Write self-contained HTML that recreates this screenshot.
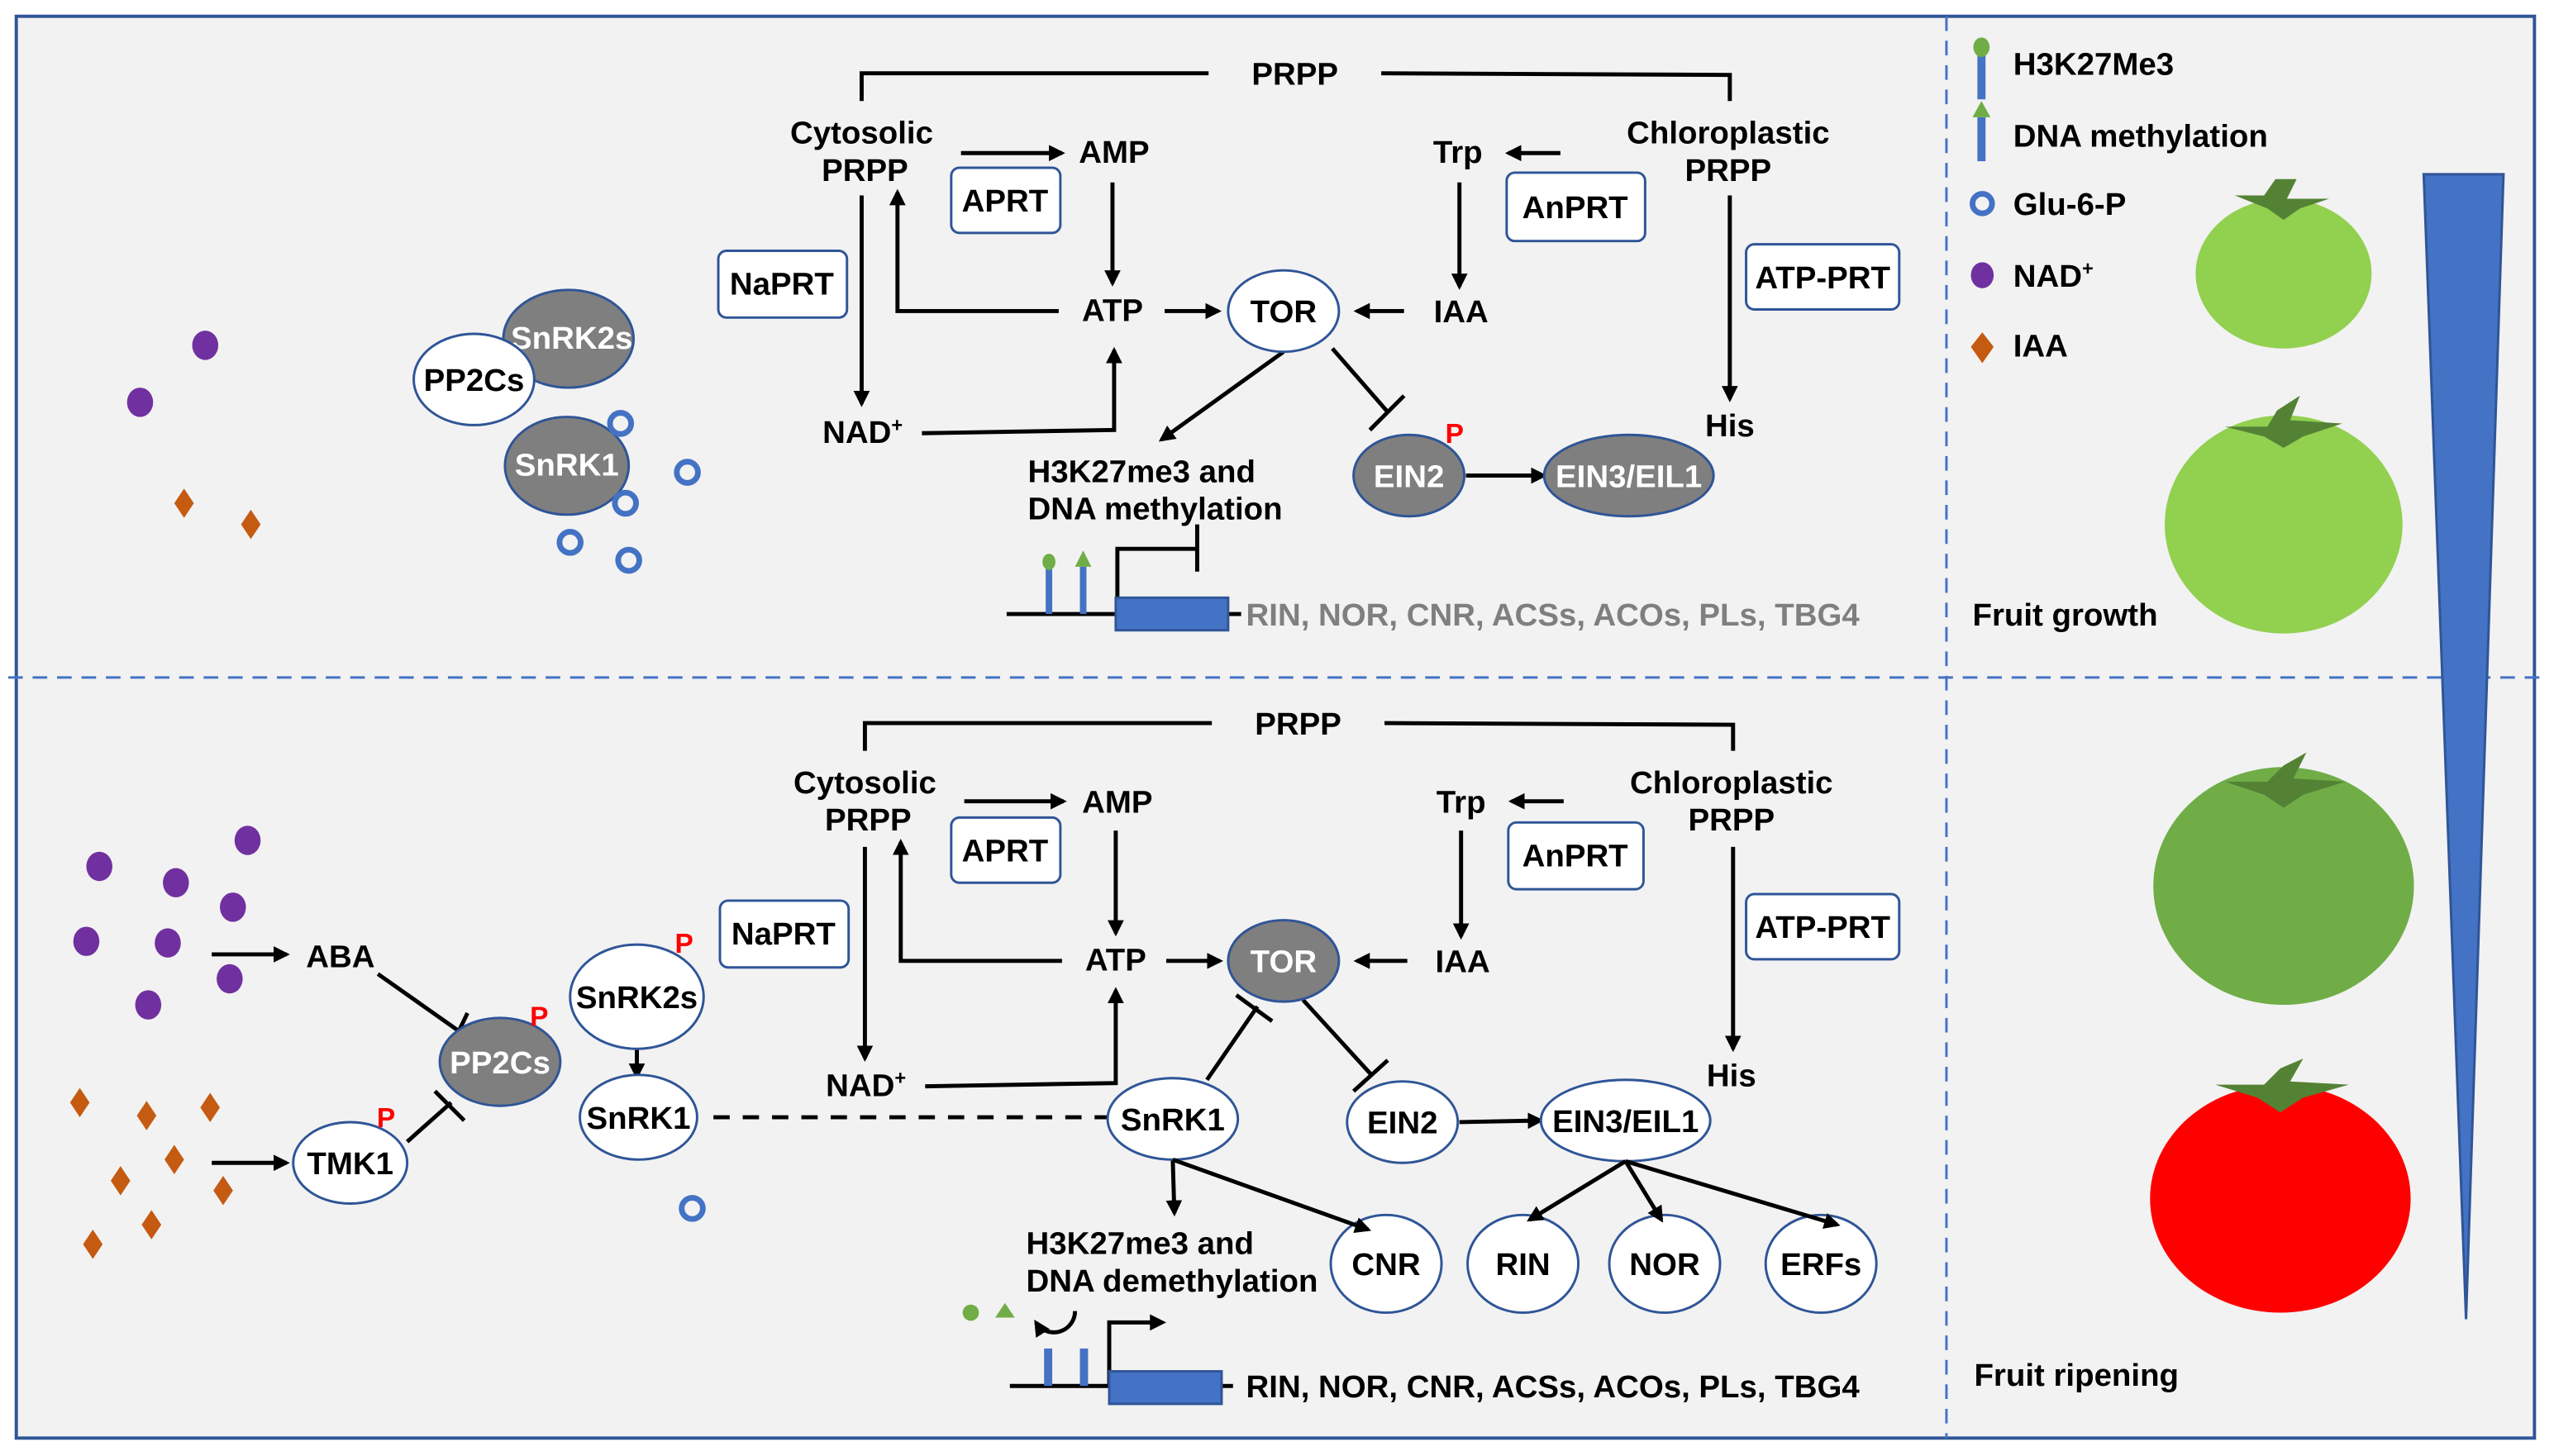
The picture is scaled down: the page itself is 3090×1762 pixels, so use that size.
<!DOCTYPE html>
<html><head><meta charset="utf-8"><style>
html,body{margin:0;padding:0;background:#fff;}
svg{display:block;}
text{font-family:"Liberation Sans",Arial,sans-serif;font-weight:bold;font-size:19.5px;fill:#000;}
.c{text-anchor:middle;}
.w{fill:#fff;}
.p{fill:#ff0000;font-size:17px;}
</style></head><body>
<svg width="3090" height="1762" viewBox="0 0 1568 894" preserveAspectRatio="none" xmlns="http://www.w3.org/2000/svg">
<defs>
<marker id="a" markerWidth="10" markerHeight="10" refX="8" refY="5" orient="auto" markerUnits="userSpaceOnUse"><path d="M0,0 L10,5 L0,10 z" fill="#000"/></marker>
</defs>
<rect x="0" y="0" width="1568" height="894" fill="#fff"/>
<rect x="10" y="10" width="1546" height="873" fill="#f2f2f2" stroke="#2f5597" stroke-width="2"/>
<line x1="5" y1="416" x2="1563" y2="416" stroke="#4472c4" stroke-width="1.5" stroke-dasharray="9,6"/>
<line x1="1195" y1="10" x2="1195" y2="883" stroke="#4472c4" stroke-width="1.5" stroke-dasharray="9,6"/>
<polygon points="1488,107 1537,107 1514,810" fill="#4472c4" stroke="#2f5597" stroke-width="1.5"/>

<!-- legend -->
<rect x="1214" y="32" width="5" height="29" fill="#4472c4"/><ellipse cx="1216.5" cy="29" rx="5" ry="6" fill="#70ad47"/>
<text x="1236" y="46">H3K27Me3</text>
<rect x="1214" y="72" width="5" height="27" fill="#4472c4"/><polygon points="1216.5,62 1211,72 1222,72" fill="#70ad47"/>
<text x="1236" y="90">DNA methylation</text>
<circle cx="1217" cy="125" r="6" fill="none" stroke="#4472c4" stroke-width="3.5"/>
<text x="1236" y="132">Glu-6-P</text>
<ellipse cx="1217" cy="169" rx="7" ry="8" fill="#7030a0"/>
<text x="1236" y="176">NAD<tspan dy="-7" font-size="12">+</tspan></text>
<polygon points="1217,204 1224,213 1217,223 1210,213" fill="#c55a11"/>
<text x="1236" y="219">IAA</text>

<!-- tomatoes -->
<ellipse cx="1402" cy="168" rx="54" ry="46" fill="#92d050"/>
<polygon points="1372,120 1390,120 1397,110 1410,110 1404,122 1430,122 1412,128 1402,135 1392,128" fill="#548235"/>
<ellipse cx="1402" cy="322" rx="73" ry="67" fill="#92d050"/>
<polygon points="1366,262 1392,262 1398,252 1412,243 1406,258 1438,260 1414,268 1402,275 1390,268" fill="#548235"/>
<text x="1211" y="384">Fruit growth</text>
<ellipse cx="1402" cy="544" rx="80" ry="73" fill="#70ad47"/>
<polygon points="1366,480 1392,480 1402,470 1416,462 1408,478 1440,480 1414,488 1402,496 1390,488" fill="#548235"/>
<ellipse cx="1400" cy="736" rx="80" ry="70" fill="#ff0000"/>
<polygon points="1360,666 1390,666 1400,656 1414,650 1406,664 1442,666 1414,674 1400,683 1386,674" fill="#548235"/>
<text x="1212" y="851">Fruit ripening</text>

<!-- TOP PANEL -->
<g stroke="#000" stroke-width="2.5" fill="none">
<polyline points="529,62 529,45 742,45"/><polyline points="848,45 1062,46 1062,62"/>
<line x1="590" y1="94" x2="652" y2="94" marker-end="url(#a)"/>
<line x1="683" y1="112" x2="683" y2="174" marker-end="url(#a)"/>
<line x1="715" y1="191" x2="748" y2="191" marker-end="url(#a)"/>
<line x1="862" y1="191" x2="833" y2="191" marker-end="url(#a)"/>
<line x1="958" y1="94" x2="926" y2="94" marker-end="url(#a)"/>
<line x1="896" y1="112" x2="896" y2="176" marker-end="url(#a)"/>
<line x1="1062" y1="120" x2="1062" y2="245" marker-end="url(#a)"/>
<line x1="529" y1="120" x2="529" y2="248" marker-end="url(#a)"/>
<polyline points="566,266 684,264 684,215" marker-end="url(#a)"/>
<polyline points="650,191 551,191 551,118" marker-end="url(#a)"/>
<line x1="788" y1="216" x2="713" y2="270" marker-end="url(#a)"/>
<line x1="818" y1="214" x2="852" y2="253"/><line x1="841" y1="264" x2="862" y2="243"/>
<line x1="900" y1="292" x2="948" y2="292" marker-end="url(#a)"/>
<line x1="618" y1="377" x2="686" y2="377"/><line x1="754" y1="377" x2="762" y2="377"/>
<polyline points="686,377 686,337 735,337"/><line x1="735" y1="322" x2="735" y2="351"/>
</g>
<rect x="685" y="367" width="69" height="20" fill="#4472c4" stroke="#2f5597" stroke-width="1.5"/>
<rect x="642" y="348" width="4" height="29" fill="#4472c4"/><ellipse cx="644" cy="345" rx="4" ry="5" fill="#70ad47"/>
<rect x="663" y="348" width="4" height="29" fill="#4472c4"/><polygon points="665,338 660,348 670,348" fill="#70ad47"/>
<text x="765" y="384" style="fill:#7f7f7f">RIN, NOR, CNR, ACSs, ACOs, PLs, TBG4</text>
<text x="795" y="52" class="c">PRPP</text>
<text x="529" y="88" class="c">Cytosolic</text><text x="531" y="111" class="c">PRPP</text>
<text x="684" y="100" class="c">AMP</text>
<rect x="584" y="103" width="67" height="40" rx="5" fill="#fff" stroke="#2f5597" stroke-width="1.5"/><text x="617" y="130" class="c">APRT</text>
<text x="683" y="197" class="c">ATP</text>
<ellipse cx="788" cy="191" rx="34" ry="25" fill="#fff" stroke="#2f5597" stroke-width="1.5"/><text x="788" y="198" class="c">TOR</text>
<text x="897" y="198" class="c">IAA</text>
<text x="895" y="100" class="c">Trp</text>
<rect x="925" y="106" width="85" height="42" rx="5" fill="#fff" stroke="#2f5597" stroke-width="1.5"/><text x="967" y="134" class="c">AnPRT</text>
<text x="1061" y="88" class="c">Chloroplastic</text><text x="1061" y="111" class="c">PRPP</text>
<rect x="1072" y="150" width="94" height="40" rx="5" fill="#fff" stroke="#2f5597" stroke-width="1.5"/><text x="1119" y="177" class="c">ATP-PRT</text>
<text x="1062" y="268" class="c">His</text>
<rect x="441" y="154" width="79" height="41" rx="5" fill="#fff" stroke="#2f5597" stroke-width="1.5"/><text x="480" y="181" class="c">NaPRT</text>
<text x="505" y="272">NAD<tspan dy="-7" font-size="12">+</tspan></text>
<ellipse cx="865" cy="292" rx="34" ry="25" fill="#7f7f7f" stroke="#2f5597" stroke-width="1.5"/><text x="865" y="299" class="c w">EIN2</text>
<text x="893" y="272" class="c p">P</text>
<ellipse cx="1000" cy="292" rx="52" ry="25" fill="#7f7f7f" stroke="#2f5597" stroke-width="1.5"/><text x="1000" y="299" class="c w">EIN3/EIL1</text>
<text x="631" y="296">H3K27me3 and</text><text x="631" y="319">DNA methylation</text>
<!-- top left -->
<ellipse cx="126" cy="212" rx="8" ry="9" fill="#7030a0"/><ellipse cx="86" cy="247" rx="8" ry="9" fill="#7030a0"/>
<polygon points="113,300 119,309 113,318 107,309" fill="#c55a11"/><polygon points="154,313 160,322 154,331 148,322" fill="#c55a11"/>
<ellipse cx="349" cy="208" rx="40" ry="30" fill="#7f7f7f" stroke="#2f5597" stroke-width="1.5"/><text x="351" y="214" class="c w">SnRK2s</text>
<ellipse cx="291" cy="233" rx="37" ry="28" fill="#fff" stroke="#2f5597" stroke-width="1.5"/><text x="291" y="240" class="c">PP2Cs</text>
<ellipse cx="348" cy="286" rx="38" ry="30" fill="#7f7f7f" stroke="#2f5597" stroke-width="1.5"/><text x="348" y="292" class="c w">SnRK1</text>
<g fill="none" stroke="#4472c4" stroke-width="3.5"><circle cx="381" cy="260" r="6.5"/><circle cx="422" cy="290" r="6.5"/><circle cx="384" cy="309" r="6.5"/><circle cx="350" cy="333" r="6.5"/><circle cx="386" cy="344" r="6.5"/></g>

<!-- BOTTOM PANEL -->
<g stroke="#000" stroke-width="2.5" fill="none">
<polyline points="531,461 531,444 744,444"/><polyline points="850,444 1064,445 1064,461"/>
<line x1="592" y1="492" x2="653" y2="492" marker-end="url(#a)"/>
<line x1="685" y1="510" x2="685" y2="573" marker-end="url(#a)"/>
<line x1="716" y1="590" x2="749" y2="590" marker-end="url(#a)"/>
<line x1="864" y1="590" x2="833" y2="590" marker-end="url(#a)"/>
<line x1="960" y1="492" x2="928" y2="492" marker-end="url(#a)"/>
<line x1="897" y1="510" x2="897" y2="575" marker-end="url(#a)"/>
<line x1="1064" y1="520" x2="1064" y2="644" marker-end="url(#a)"/>
<line x1="531" y1="520" x2="531" y2="650" marker-end="url(#a)"/>
<polyline points="568,667 685,665 685,608" marker-end="url(#a)"/>
<polyline points="652,590 553,590 553,517" marker-end="url(#a)"/>
<line x1="741" y1="663" x2="772" y2="618"/><line x1="759" y1="611" x2="781" y2="627"/>
<line x1="800" y1="614" x2="842" y2="660"/><line x1="831" y1="670" x2="852" y2="651"/>
<line x1="438" y1="686" x2="680" y2="686" stroke-dasharray="10,8"/>
<line x1="896" y1="689" x2="946" y2="688" marker-end="url(#a)"/>
<line x1="720" y1="712" x2="721" y2="745" marker-end="url(#a)"/>
<line x1="620" y1="851" x2="682" y2="851"/><line x1="750" y1="851" x2="757" y2="851"/>
<polyline points="681,851 681,812 708,812"/>
<path d="M660,805 A13,13 0 0 1 636,812" marker-end="url(#a)"/>
<line x1="130" y1="586" x2="176" y2="586" marker-end="url(#a)"/>
<line x1="232" y1="598" x2="283" y2="634"/><line x1="276" y1="645" x2="287" y2="622"/>
<line x1="130" y1="714" x2="176" y2="714" marker-end="url(#a)"/>
<line x1="250" y1="701" x2="277" y2="677"/><line x1="267" y1="670" x2="285" y2="688"/>
<line x1="391" y1="644" x2="391" y2="661" marker-end="url(#a)"/>
</g>
<polygon points="706,807 716,812 706,817" fill="#000"/>
<rect x="681" y="842" width="69" height="20" fill="#4472c4" stroke="#2f5597" stroke-width="1.5"/>
<rect x="641" y="828" width="5" height="23" fill="#4472c4"/><rect x="663" y="828" width="5" height="23" fill="#4472c4"/>
<circle cx="596" cy="806" r="5" fill="#70ad47"/><polygon points="617,800 611,809 623,809" fill="#70ad47"/>
<text x="765" y="858">RIN, NOR, CNR, ACSs, ACOs, PLs, TBG4</text>
<text x="797" y="451" class="c">PRPP</text>
<text x="531" y="487" class="c">Cytosolic</text><text x="533" y="510" class="c">PRPP</text>
<text x="686" y="499" class="c">AMP</text>
<rect x="584" y="502" width="67" height="40" rx="5" fill="#fff" stroke="#2f5597" stroke-width="1.5"/><text x="617" y="529" class="c">APRT</text>
<text x="685" y="596" class="c">ATP</text>
<ellipse cx="788" cy="590" rx="34" ry="25" fill="#7f7f7f" stroke="#2f5597" stroke-width="1.5"/><text x="788" y="597" class="c w">TOR</text>
<text x="898" y="597" class="c">IAA</text>
<text x="897" y="499" class="c">Trp</text>
<rect x="926" y="505" width="83" height="41" rx="5" fill="#fff" stroke="#2f5597" stroke-width="1.5"/><text x="967" y="532" class="c">AnPRT</text>
<text x="1063" y="487" class="c">Chloroplastic</text><text x="1063" y="510" class="c">PRPP</text>
<rect x="1072" y="549" width="94" height="40" rx="5" fill="#fff" stroke="#2f5597" stroke-width="1.5"/><text x="1119" y="576" class="c">ATP-PRT</text>
<text x="1063" y="667" class="c">His</text>
<rect x="442" y="553" width="79" height="41" rx="5" fill="#fff" stroke="#2f5597" stroke-width="1.5"/><text x="481" y="580" class="c">NaPRT</text>
<text x="507" y="673">NAD<tspan dy="-7" font-size="12">+</tspan></text>
<ellipse cx="720" cy="687" rx="40" ry="25" fill="#fff" stroke="#2f5597" stroke-width="1.5"/><text x="720" y="694" class="c">SnRK1</text>
<ellipse cx="861" cy="689" rx="34" ry="25" fill="#fff" stroke="#2f5597" stroke-width="1.5"/><text x="861" y="696" class="c">EIN2</text>
<ellipse cx="998" cy="688" rx="52" ry="25" fill="#fff" stroke="#2f5597" stroke-width="1.5"/><text x="998" y="695" class="c">EIN3/EIL1</text>
<g fill="#fff" stroke="#2f5597" stroke-width="1.5">
<ellipse cx="851" cy="776" rx="34" ry="30"/><ellipse cx="935" cy="776" rx="34" ry="30"/><ellipse cx="1022" cy="776" rx="34" ry="30"/><ellipse cx="1118" cy="776" rx="34" ry="30"/></g>
<g stroke="#000" stroke-width="2.5" fill="none">
<line x1="998" y1="713" x2="939" y2="749" marker-end="url(#a)"/>
<line x1="998" y1="713" x2="1020" y2="749" marker-end="url(#a)"/>
<line x1="998" y1="713" x2="1128" y2="752" marker-end="url(#a)"/>
<line x1="720" y1="712" x2="840" y2="755" marker-end="url(#a)"/>
</g>
<text x="851" y="783" class="c">CNR</text><text x="935" y="783" class="c">RIN</text><text x="1022" y="783" class="c">NOR</text><text x="1118" y="783" class="c">ERFs</text>
<text x="630" y="770">H3K27me3 and</text><text x="630" y="793">DNA demethylation</text>
<!-- bottom left -->
<g fill="#7030a0"><ellipse cx="61" cy="532" rx="8" ry="9"/><ellipse cx="152" cy="516" rx="8" ry="9"/><ellipse cx="108" cy="542" rx="8" ry="9"/><ellipse cx="143" cy="557" rx="8" ry="9"/><ellipse cx="53" cy="578" rx="8" ry="9"/><ellipse cx="103" cy="579" rx="8" ry="9"/><ellipse cx="141" cy="601" rx="8" ry="9"/><ellipse cx="91" cy="617" rx="8" ry="9"/></g>
<g fill="#c55a11">
<polygon points="49,668 55,677 49,686 43,677"/><polygon points="90,676 96,685 90,694 84,685"/><polygon points="129,671 135,680 129,689 123,680"/><polygon points="107,703 113,712 107,721 101,712"/><polygon points="74,716 80,725 74,734 68,725"/><polygon points="137,722 143,731 137,740 131,731"/><polygon points="93,743 99,752 93,761 87,752"/><polygon points="57,755 63,764 57,773 51,764"/></g>
<text x="209" y="594" class="c">ABA</text>
<ellipse cx="215" cy="714" rx="35" ry="25" fill="#fff" stroke="#2f5597" stroke-width="1.5"/><text x="215" y="721" class="c">TMK1</text>
<text x="237" y="692" class="c p">P</text>
<ellipse cx="307" cy="652" rx="37" ry="27" fill="#7f7f7f" stroke="#2f5597" stroke-width="1.5"/><text x="307" y="659" class="c w">PP2Cs</text>
<text x="331" y="630" class="c p">P</text>
<ellipse cx="391" cy="612" rx="41" ry="32" fill="#fff" stroke="#2f5597" stroke-width="1.5"/><text x="391" y="619" class="c">SnRK2s</text>
<text x="420" y="585" class="c p">P</text>
<ellipse cx="392" cy="686" rx="36" ry="26" fill="#fff" stroke="#2f5597" stroke-width="1.5"/><text x="392" y="693" class="c">SnRK1</text>
<circle cx="425" cy="742" r="6.5" fill="none" stroke="#4472c4" stroke-width="3.5"/>
</svg>
</body></html>
